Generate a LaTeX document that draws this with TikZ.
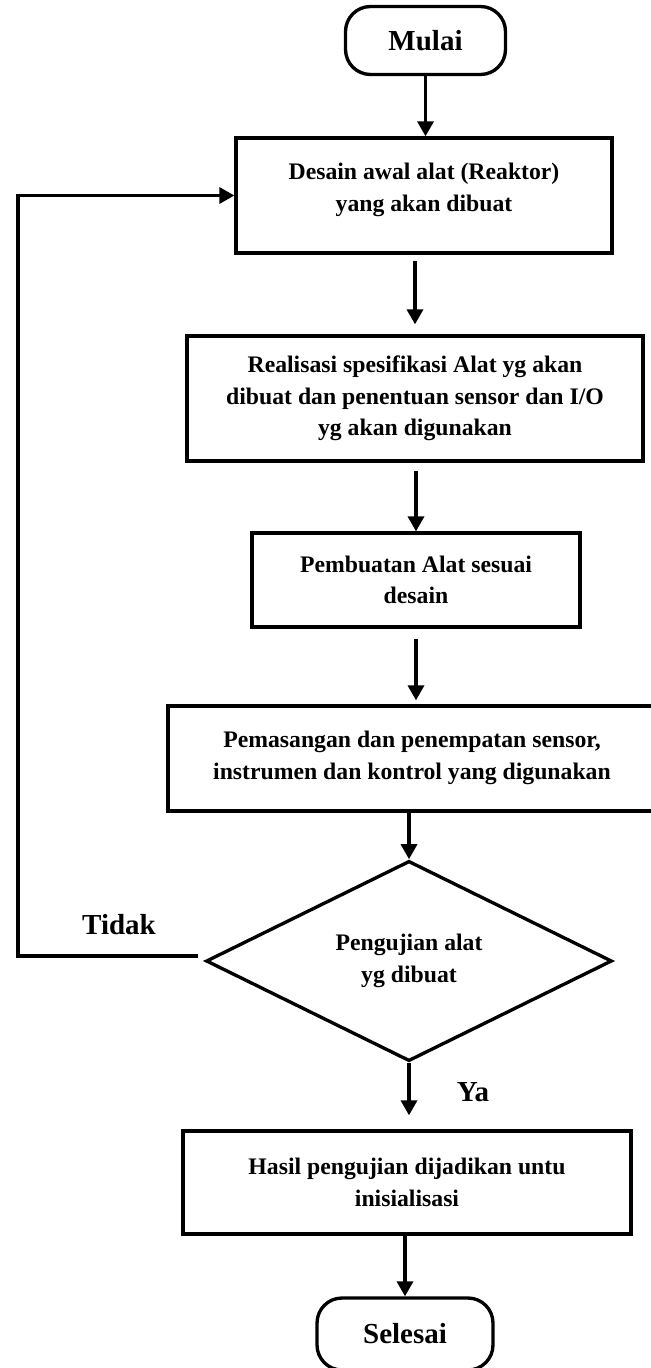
\documentclass[tikz,border=0pt]{standalone}
\usepackage{fontspec}
\setmainfont{Liberation Serif}
\usetikzlibrary{arrows.meta,shapes.geometric}

\begin{document}
\begin{tikzpicture}[x=0.02cm,y=-0.02cm,line width=1.9pt,
    kotak/.style={draw,rectangle,align=center,inner sep=0pt,font=\fontsize{13.5}{18}\selectfont\bfseries},
    ujung/.style={draw,rectangle,rounded corners=0.5cm,minimum width=3.2cm,minimum height=1.36cm,font=\fontsize{16.5}{20}\selectfont\bfseries},
    panah/.style={-{Triangle[length=0.3cm,width=0.32cm]}},
    teks/.style={font=\fontsize{16.5}{20}\selectfont\bfseries}]

      \useasboundingbox (0,0) rectangle (651,1368);

      \node[ujung] (mulai) at (425.5,40.5) {Mulai};
      \node[kotak,minimum width=7.52cm,minimum height=2.3cm] (desain) at (424,195.5)
        {Desain awal alat (Reaktor)\\yang akan dibuat\\[-0.3cm]\mbox{}};
      \node[kotak,minimum width=9.12cm,minimum height=2.5cm] (realisasi) at (415,398.5)
        {Realisasi spesifikasi Alat yg akan\\dibuat dan penentuan sensor dan I/O\\yg akan digunakan};
      \node[kotak,minimum width=6.56cm,minimum height=1.88cm] (pembuatan) at (416,580)
        {Pembuatan Alat sesuai\\desain};
      \node[kotak,minimum width=9.76cm,minimum height=2.1cm] (pemasangan) at (412,758.5)
        {Pemasangan dan penempatan sensor,\\instrumen dan kontrol yang digunakan\\[-0.5cm]\mbox{}};
      \node[kotak,diamond,minimum width=8.12cm,minimum height=3.66cm] (tanya) at (409,961)
        {Pengujian alat\\yg dibuat};
      \node[kotak,minimum width=8.96cm,minimum height=2.06cm] (hasil) at (407,1182.5)
        {Hasil pengujian dijadikan untu\\inisialisasi};
      \node[ujung,minimum width=3.52cm,minimum height=1.44cm] (selesai) at (405,1334) {Selesai};

      \node[teks] (tidak) at (119,925) {Tidak};
      \node[teks] (ya) at (473,1092) {Ya};

      \draw[panah] (mulai) -- (mulai |- desain.north);
      \draw[panah,shorten <=0.12cm,shorten >=0.2cm] (realisasi |- desain.south) -- (realisasi.north);
      \draw[panah,shorten <=0.16cm] (pembuatan |- realisasi.south) -- (pembuatan.north);
      \draw[panah,shorten <=0.2cm,shorten >=0.08cm] (pembuatan.south) -- (pembuatan.south |- pemasangan.north);
      \draw[panah] (tanya |- pemasangan.south) -- (tanya.north);
      \draw[panah,shorten >=0.28cm] (tanya.south) -- (tanya.south |- hasil.north);
      \draw[panah] (selesai |- hasil.south) -- (selesai.north);

      %Tidak
      \coordinate (balik) at (18,956);
      \draw[panah] ([shift={(-6,-5)}]tanya.west) -- (balik) |- (desain.west);

\end{tikzpicture}
\end{document}
